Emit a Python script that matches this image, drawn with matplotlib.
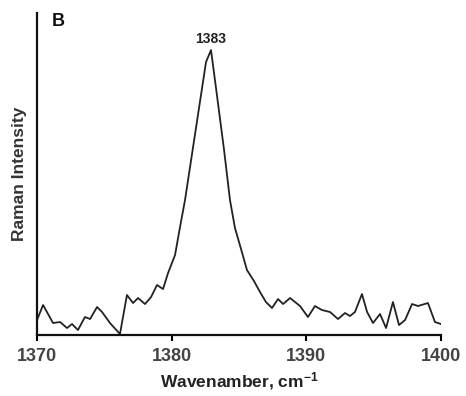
import matplotlib.pyplot as plt

# Raman spectrum around the 1383 cm-1 band
wavenumber = [1370.0, 1370.45, 1371.19, 1371.71, 1372.23, 1372.60, 1373.04, 1373.56,
              1373.94, 1374.46, 1374.83, 1375.42, 1376.16, 1376.68, 1377.13, 1377.50,
              1378.02, 1378.47, 1378.91, 1379.36, 1379.73, 1380.25, 1380.62, 1380.99,
              1381.51, 1382.03, 1382.55, 1382.92, 1383.37, 1383.89, 1384.33, 1384.70,
              1385.15, 1385.59, 1386.11, 1386.56, 1387.00, 1387.45, 1387.90, 1388.27,
              1388.79, 1389.53, 1390.12, 1390.64, 1391.16, 1391.76, 1392.35, 1392.87,
              1393.24, 1393.61, 1394.13, 1394.51, 1394.95, 1395.47, 1395.92, 1396.43,
              1396.88, 1397.33, 1397.85, 1398.29, 1399.03, 1399.55, 1400.0]
intensity = [15, 30, 12, 13, 7, 11, 5, 18,
             16, 28, 23, 12, 1, 40, 32, 37,
             31, 38, 50, 46, 62, 80, 108, 135,
             181, 227, 273, 285, 239, 185, 135, 107,
             86, 65, 54, 43, 33, 27, 36, 31,
             37, 29, 18, 29, 25, 23, 16, 22,
             19, 23, 41, 23, 12, 21, 7, 33,
             10, 15, 31, 29, 32, 13, 11]
peak_label = '1383'
xticks = [1370, 1380, 1390, 1400]

plt.rcParams['font.family'] = ['Liberation Sans', 'DejaVu Sans']
plt.rcParams['mathtext.fontset'] = 'custom'
plt.rcParams['mathtext.bf'] = 'Liberation Sans:bold'

fig = plt.figure(figsize=(4.66, 3.96), dpi=100)
ax = fig.add_axes([0.0794, 0.154, 0.867, 0.813])

ax.plot(wavenumber, intensity, color='#222222', linewidth=1.3)

peak = intensity.index(max(intensity))
ax.annotate(peak_label, (wavenumber[peak], intensity[peak]),
            textcoords='offset points', xytext=(0, 3), ha='center', va='bottom',
            fontsize=10, fontweight='bold', color='#222222')

ax.set_xlim(1370, 1400)
ax.set_ylim(0, 322)
ax.set_xticks(xticks)
ax.set_xticklabels([str(t) for t in xticks], fontsize=13, fontweight='bold', color='#444444')
ax.set_yticks([])
ax.tick_params(axis='x', direction='out', length=4, width=1.5, pad=5)

for side in ['top', 'right']:
    ax.spines[side].set_visible(False)
for side in ['left', 'bottom']:
    ax.spines[side].set_linewidth(1.6)
    ax.spines[side].set_color('#111111')

ax.set_xlabel('Wavenamber, cm$\\mathbf{^{-1}}$', fontsize=12.5, fontweight='bold',
              color='#222222', labelpad=4)
ax.set_ylabel('Raman Intensity', fontsize=12.5, fontweight='bold', color='#333333', labelpad=7)

fig.text(0.112, 0.935, 'B', fontsize=13, fontweight='bold', color='#111111')

fig.savefig('out.png', dpi=100)
